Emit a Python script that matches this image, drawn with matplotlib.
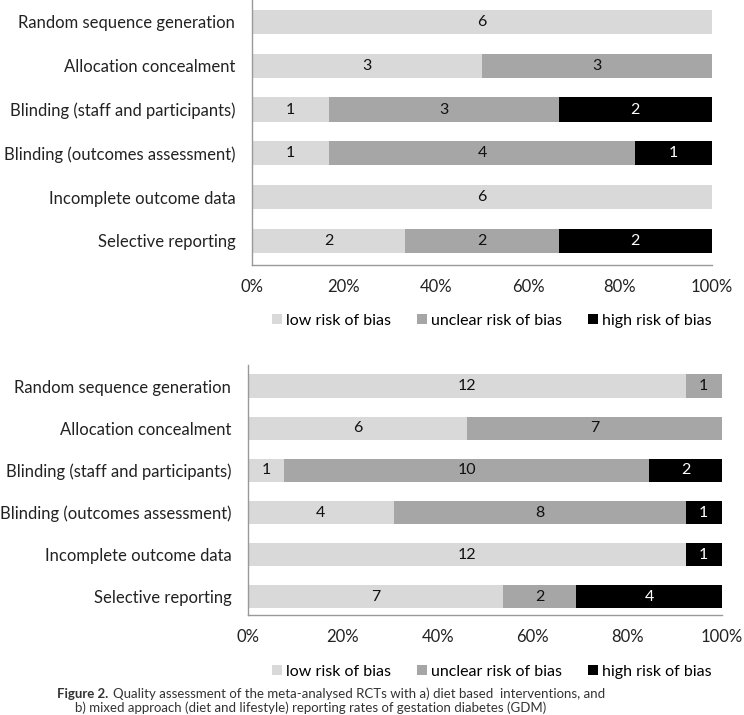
import matplotlib
matplotlib.use("Agg")
import matplotlib.pyplot as plt
import numpy as np
from matplotlib.patches import Patch

plt.rcParams['font.family'] = ['Lato', 'DejaVu Sans']

domains = [
    "Random sequence generation",
    "Allocation concealment",
    "Blinding (staff and participants)",
    "Blinding (outcomes assessment)",
    "Incomplete outcome data",
    "Selective reporting",
]
risk_levels = ["low risk of bias", "unclear risk of bias", "high risk of bias"]
colors = ["#d9d9d9", "#a6a6a6", "#000000"]
text_colors = ["#111111", "#111111", "#ffffff"]

# a) diet based interventions
diet_low = [6, 3, 1, 1, 6, 2]
diet_unclear = [0, 3, 3, 4, 0, 2]
diet_high = [0, 0, 2, 1, 0, 2]

# b) mixed approach (diet and lifestyle)
mixed_low = [12, 6, 1, 4, 12, 7]
mixed_unclear = [1, 7, 10, 8, 0, 2]
mixed_high = [0, 0, 2, 1, 1, 4]

ticks = [0, 20, 40, 60, 80, 100]
tick_labels = ["0%", "20%", "40%", "60%", "80%", "100%"]


def draw_panel(ax, series, ylim):
    counts = np.array(series, dtype=float)
    totals = counts.sum(axis=0)
    pct = counts / totals * 100
    y = np.arange(len(domains))
    left = np.zeros(len(domains))
    for k in range(3):
        ax.barh(y, pct[k], left=left, height=0.55, color=colors[k],
                edgecolor="none")
        for i in range(len(domains)):
            if counts[k, i] > 0:
                ax.text(left[i] + pct[k, i] / 2, y[i], "%d" % counts[k, i],
                        ha="center", va="center", fontsize=11.5,
                        color=text_colors[k])
        left += pct[k]
    ax.set_xlim(0, 100)
    ax.set_ylim(*ylim)
    ax.set_yticks(y)
    ax.set_yticklabels(domains, fontsize=12, color="#222222")
    ax.set_xticks(ticks)
    ax.set_xticklabels(tick_labels, fontsize=12, color="#222222")
    ax.tick_params(length=0, axis="y", pad=12)
    ax.tick_params(length=0, axis="x", pad=10)
    for s in ["top", "right"]:
        ax.spines[s].set_visible(False)
    for s in ["left", "bottom"]:
        ax.spines[s].set_color("#999999")
        ax.spines[s].set_linewidth(1.0)


fig = plt.figure(figsize=(7.44, 7.15), dpi=100)

ax1 = fig.add_axes([252 / 744, 1 - 265 / 715, 460 / 744, 265 / 715])
draw_panel(ax1, [diet_low, diet_unclear, diet_high], (5.55, -0.5))

ax2 = fig.add_axes([248 / 744, 1 - 615 / 715, 474 / 744, 250 / 715])
draw_panel(ax2, [mixed_low, mixed_unclear, mixed_high], (5.43, -0.5))

handles = [Patch(facecolor=c, edgecolor="none") for c in colors]
for yy in [321, 672]:
    fig.legend(handles, risk_levels, loc="center", ncol=3,
               bbox_to_anchor=(492 / 744, 1 - yy / 715), frameon=False,
               fontsize=11.5, handlelength=0.6, handleheight=0.6,
               handletextpad=0.3, columnspacing=1.6)

fig.text(57 / 744, 1 - 694 / 715, "Figure 2.", fontsize=9.5, fontweight="bold",
         color="#333333", va="center")
fig.text(113 / 744, 1 - 694 / 715,
         "Quality assessment of the meta-analysed RCTs with a) diet based  interventions, and",
         fontsize=9.5, color="#333333", va="center")
fig.text(75 / 744, 1 - 708 / 715,
         "b) mixed approach (diet and lifestyle) reporting rates of gestation diabetes (GDM)",
         fontsize=9.5, color="#333333", va="center")

fig.savefig("out.png", dpi=100)
